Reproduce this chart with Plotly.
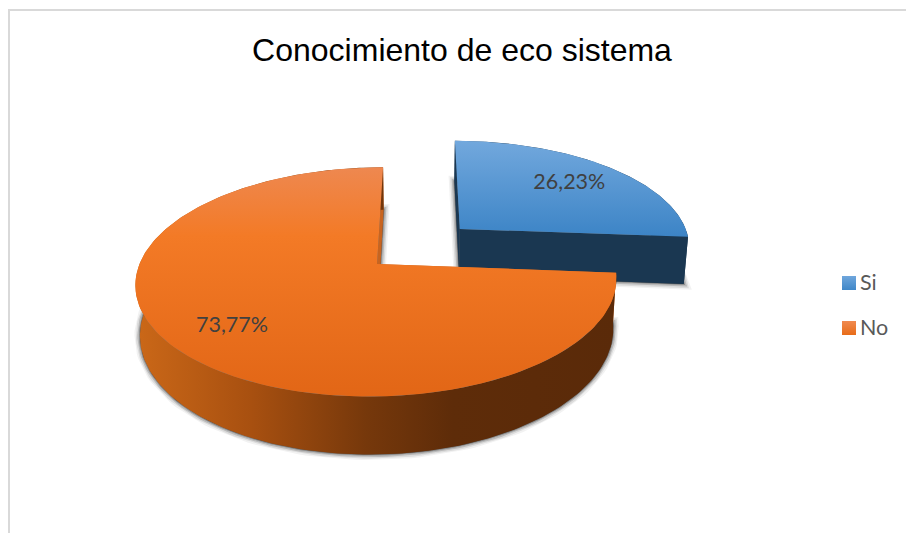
import numpy as np
import plotly.graph_objects as go

# Chart content
TITLE = "Conocimiento de eco sistema"
categories = ["Si", "No"]
values = [26.23, 73.77]

# Size of the canvas in pixels; the axes below use it directly
WIDTH, HEIGHT = 906, 533

# Perspective camera for the tilted pie
VANISH_X, VANISH_Y = 422.0, -453.0
RADIUS_X = 237.5
SHIFT_X = -45.0
TOP_H, BOTTOM_H = 717.0, 766.0
BOTTOM_SHRINK = 0.984
DEPTH_K = 0.156
EXPLODE = 0.243
LABEL_R = [0.726, 0.746]

top_ramp = [
    [[0, "#72a8dd"], [1, "#3c84c6"]],
    [[0, "#ee8850"], [0.3, "#f37a26"], [1, "#e26616"]],
]
wall_ramp = [
    [[0, "#1a3751"], [1, "#1a3751"]],
    [[0, "#cb6818"], [0.24, "#a85010"], [0.48, "#76380b"], [0.66, "#5e2c09"], [1, "#5a2a09"]],
]
cut_colour = ["#1a3751", "#c8641f"]
key_colour = [("#6fa6dc", "#3f87c8"), ("#f08a50", "#e86c18")]


def project(u, v, bottom=False):
    """Map pie-plane coordinates (radius units, v pointing back) to canvas pixels."""
    u = np.asarray(u, float) + EXPLODE * 0.734
    v = np.asarray(v, float) + EXPLODE * 0.679
    w = 1 + DEPTH_K * v
    scale = BOTTOM_SHRINK if bottom else 1.0
    height = BOTTOM_H if bottom else TOP_H
    return VANISH_X + scale * (RADIUS_X * u + SHIFT_X) / w, VANISH_Y + height / w


def wedge(start, end, apex):
    """Outline of one slice in pie-plane coordinates, apex first."""
    t = np.linspace(start, end, 160)
    return (np.r_[apex[0], apex[0] + np.sin(t)], np.r_[apex[1], apex[1] + np.cos(t)])


def polygon(fig, xs, ys, **style):
    fig.add_trace(go.Scatter(x=xs, y=ys, mode="lines", fill="toself", hoverinfo="skip",
                             showlegend=False, **style))


fig = go.Figure()

# Cumulative angles, clockwise from the back of the pie
fractions = np.array(values) / sum(values)
edges = np.r_[0, np.cumsum(fractions)] * 2 * np.pi

label_pos = []
for i, name in enumerate(categories):
    start, end = edges[i], edges[i + 1]
    mid = (start + end) / 2
    apex = (EXPLODE * np.sin(mid), EXPLODE * np.cos(mid))
    us, vs = wedge(start, end, apex)

    # Soft contact shadow: the base outline stroked several times
    bx, by = project(us, vs, bottom=True)
    for width, alpha in [(11, 0.06), (8, 0.10), (5, 0.18), (2, 0.30)]:
        polygon(fig, np.r_[bx, bx[0]], np.r_[by, by[0]],
                line=dict(color=f"rgba(30,30,30,{alpha})", width=width),
                fillcolor="rgba(30,30,30,0.2)")

    # Flat faces left by the cut edges
    for edge_angle in (start, end):
        eu = apex[0] + np.sin(edge_angle)
        ev = apex[1] + np.cos(edge_angle)
        tx, ty = project([apex[0], eu], [apex[1], ev])
        lx, ly = project([eu, apex[0]], [ev, apex[1]], bottom=True)
        polygon(fig, np.r_[tx, lx, tx[0]], np.r_[ty, ly, ty[0]],
                line=dict(width=0), fillcolor=cut_colour[i])

    # Curved outer wall with a horizontal light falloff
    t = np.linspace(start, end, 240)
    wu, wv = apex[0] + np.sin(t), apex[1] + np.cos(t)
    tx, ty = project(wu, wv)
    lx, ly = project(wu[::-1], wv[::-1], bottom=True)
    polygon(fig, np.r_[tx, lx, tx[0]], np.r_[ty, ly, ty[0]], line=dict(width=0),
            fillgradient=dict(type="horizontal", colorscale=wall_ramp[i]))

    # Top face, lit from the back
    fx, fy = project(us, vs)
    polygon(fig, np.r_[fx, fx[0]], np.r_[fy, fy[0]], line=dict(width=0),
            fillgradient=dict(type="vertical", colorscale=top_ramp[i],
                              start=float(fy.min()), stop=float(fy.max())))

    lu = apex[0] + LABEL_R[i] * np.sin(mid)
    lv = apex[1] + LABEL_R[i] * np.cos(mid)
    label_pos.append(project(lu, lv))

# Percentages printed on the slices, with a decimal comma
fig.add_trace(go.Scatter(
    x=[float(p[0]) for p in label_pos], y=[float(p[1]) + 1.0 for p in label_pos],
    mode="text", text=[f"{v:.2f}%".replace(".", ",") for v in values],
    textposition="middle center", hoverinfo="skip", showlegend=False,
    textfont=dict(family="Lato", size=21.5, color="#404040"),
))

# Legend keys and their names
fig.add_trace(go.Scatter(
    x=[849, 849], y=[283, 328], mode="markers", hoverinfo="skip", showlegend=False,
    marker=dict(symbol="square", size=14, color=[c[0] for c in key_colour],
                gradient=dict(type="vertical", color=[c[1] for c in key_colour]),
                line=dict(width=0)),
))
fig.add_trace(go.Scatter(
    x=[860, 860], y=[284.5, 329.5], mode="text", text=categories,
    textposition="middle right", hoverinfo="skip", showlegend=False,
    textfont=dict(family="Lato", size=21.5, color="#595959"),
))

fig.update_layout(
    width=WIDTH, height=HEIGHT,
    margin=dict(l=0, r=0, t=0, b=0),
    paper_bgcolor="white", plot_bgcolor="white",
    title=dict(text=TITLE, x=462 / WIDTH, y=1 - 50 / HEIGHT, xanchor="center", yanchor="middle",
               font=dict(family="Liberation Sans", size=32, color="#000000")),
    xaxis=dict(range=[0, WIDTH], visible=False, fixedrange=True),
    yaxis=dict(range=[HEIGHT, 0], visible=False, fixedrange=True),
    shapes=[
        dict(type="line", x0=9, x1=WIDTH, y0=10, y1=10, line=dict(color="#d9d9d9", width=2)),
        dict(type="line", x0=9, x1=9, y0=9, y1=HEIGHT, line=dict(color="#d9d9d9", width=2)),
    ],
)

fig.write_html("out.html", config=dict(displayModeBar=False))
